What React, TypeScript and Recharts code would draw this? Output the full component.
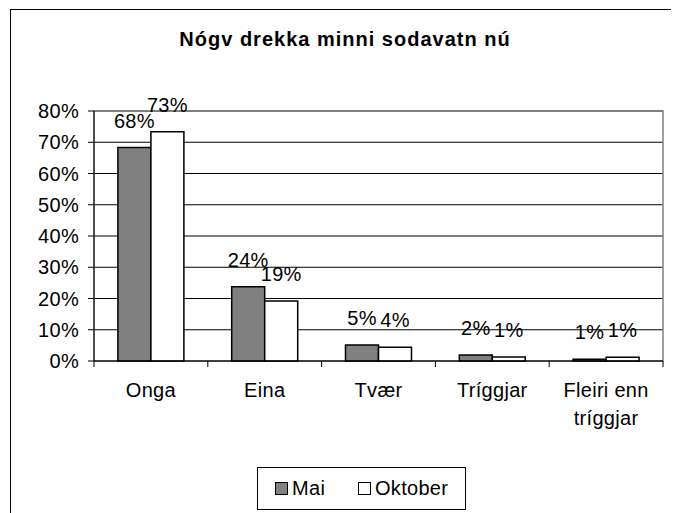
import React from 'react';
import { BarChart, Bar, XAxis, YAxis, CartesianGrid, LabelList, ReferenceArea } from 'recharts';

const categories = ['Onga', 'Eina', 'Tvær', 'Tríggjar', 'Fleiri enn tríggjar'];
const maiValues = [0.683, 0.238, 0.051, 0.019, 0.006];
const oktoberValues = [0.734, 0.192, 0.044, 0.013, 0.012];
const yTicks = [0, 0.1, 0.2, 0.3, 0.4, 0.5, 0.6, 0.7, 0.8];
const title = 'Nógv drekka minni sodavatn nú';
const seriesNames = ['Mai', 'Oktober'];

const data = categories.map((c, i) => ({ name: c, mai: maiValues[i], oktober: oktoberValues[i] }));

const FONT = 'Arial, "Liberation Sans", sans-serif';
const FS = 20;
const LS = 0.3;
const pct = (v: number) => `${Math.round(v * 100)}%`;

const XTick = (props: any) => {
  const { x, y, payload, index } = props;
  const off = payload && typeof payload.offset === 'number' && payload.offset > 0 ? payload.offset : 57;
  const words: string[] = String(payload.value).split(' ');
  const lines: string[] = words.length > 2 ? [words.slice(0, 2).join(' '), words.slice(2).join(' ')] : [String(payload.value)];
  return (
    <g>
      <line x1={x - off} x2={x - off} y1={y - 10} y2={y - 4} stroke="#000" strokeWidth={1} />
      {index === categories.length - 1 && (
        <line x1={x + off} x2={x + off} y1={y - 10} y2={y - 4} stroke="#000" strokeWidth={1} />
      )}
      <text x={x} y={y} textAnchor="middle" fill="#000" fontSize={FS} fontFamily={FONT} letterSpacing={LS}>
        {lines.map((l, i) => (
          <tspan key={i} x={x} dy={i === 0 ? 26 : 28}>{l}</tspan>
        ))}
      </text>
    </g>
  );
};

const renderLabel = (props: any) => {
  const { x, y, width, value } = props;
  return (
    <text x={x + width / 2} y={y - 20} textAnchor="middle" fill="#000" fontSize={FS} fontFamily={FONT} letterSpacing={LS}>
      {pct(value)}
    </text>
  );
};

export default function App() {
  return (
    <div style={{ position: 'relative', width: 671, height: 505, overflow: 'hidden', fontFamily: FONT }}>
      <div style={{ position: 'absolute', left: 2, top: 1, width: 800, height: 800, border: '1px solid #000', boxSizing: 'border-box' }} />
      <div style={{ position: 'absolute', left: 0, top: 21, width: 674, textAlign: 'center', fontSize: 20, lineHeight: '20px', fontWeight: 'bold', letterSpacing: 1, color: '#000' }}>
        {title}
      </div>
      <div style={{ position: 'absolute', left: 0, top: 0 }}>
        <BarChart width={671} height={505} data={data} margin={{ top: 103, right: 16, left: 0, bottom: 92 }} barCategoryGap="21%" barGap={0}>
          <CartesianGrid horizontal={true} vertical={false} stroke="#000" strokeWidth={1} />
          <ReferenceArea y1={0} y2={0.8} stroke="#808080" strokeWidth={1.5} fill="none" fillOpacity={0} ifOverflow="visible" />
          <Bar dataKey="mai" name={seriesNames[0]} fill="#808080" stroke="#000" strokeWidth={1.5} isAnimationActive={false}>
            <LabelList dataKey="mai" content={renderLabel} />
          </Bar>
          <Bar dataKey="oktober" name={seriesNames[1]} fill="#fff" stroke="#000" strokeWidth={1.5} isAnimationActive={false}>
            <LabelList dataKey="oktober" content={renderLabel} />
          </Bar>
          <XAxis dataKey="name" height={60} tickLine={false} tickSize={6} tickMargin={4} axisLine={{ stroke: '#000' }} tick={<XTick />} interval={0} />
          <YAxis width={86} domain={[0, 0.8]} ticks={yTicks} tickFormatter={pct} tickSize={6} tickMargin={9} axisLine={{ stroke: '#000' }} tickLine={{ stroke: '#000' }} tick={{ fill: '#000', fontSize: FS, fontFamily: FONT, letterSpacing: LS }} interval={0} />
        </BarChart>
      </div>
      <div style={{ position: 'absolute', left: 249, top: 459, width: 209, height: 43, border: '1px solid #000', boxSizing: 'border-box', background: '#fff' }}>
        {seriesNames.map((n, i) => (
          <div key={n} style={{ position: 'absolute', left: i === 0 ? 17 : 100, top: 0, height: 41, display: 'flex', alignItems: 'center' }}>
            <span style={{ display: 'inline-block', width: 11, height: 11, border: '1px solid #000', background: i === 0 ? '#808080' : '#fff', marginRight: 4 }} />
            <span style={{ fontSize: FS, letterSpacing: LS, color: '#000' }}>{n}</span>
          </div>
        ))}
      </div>
    </div>
  );
}
